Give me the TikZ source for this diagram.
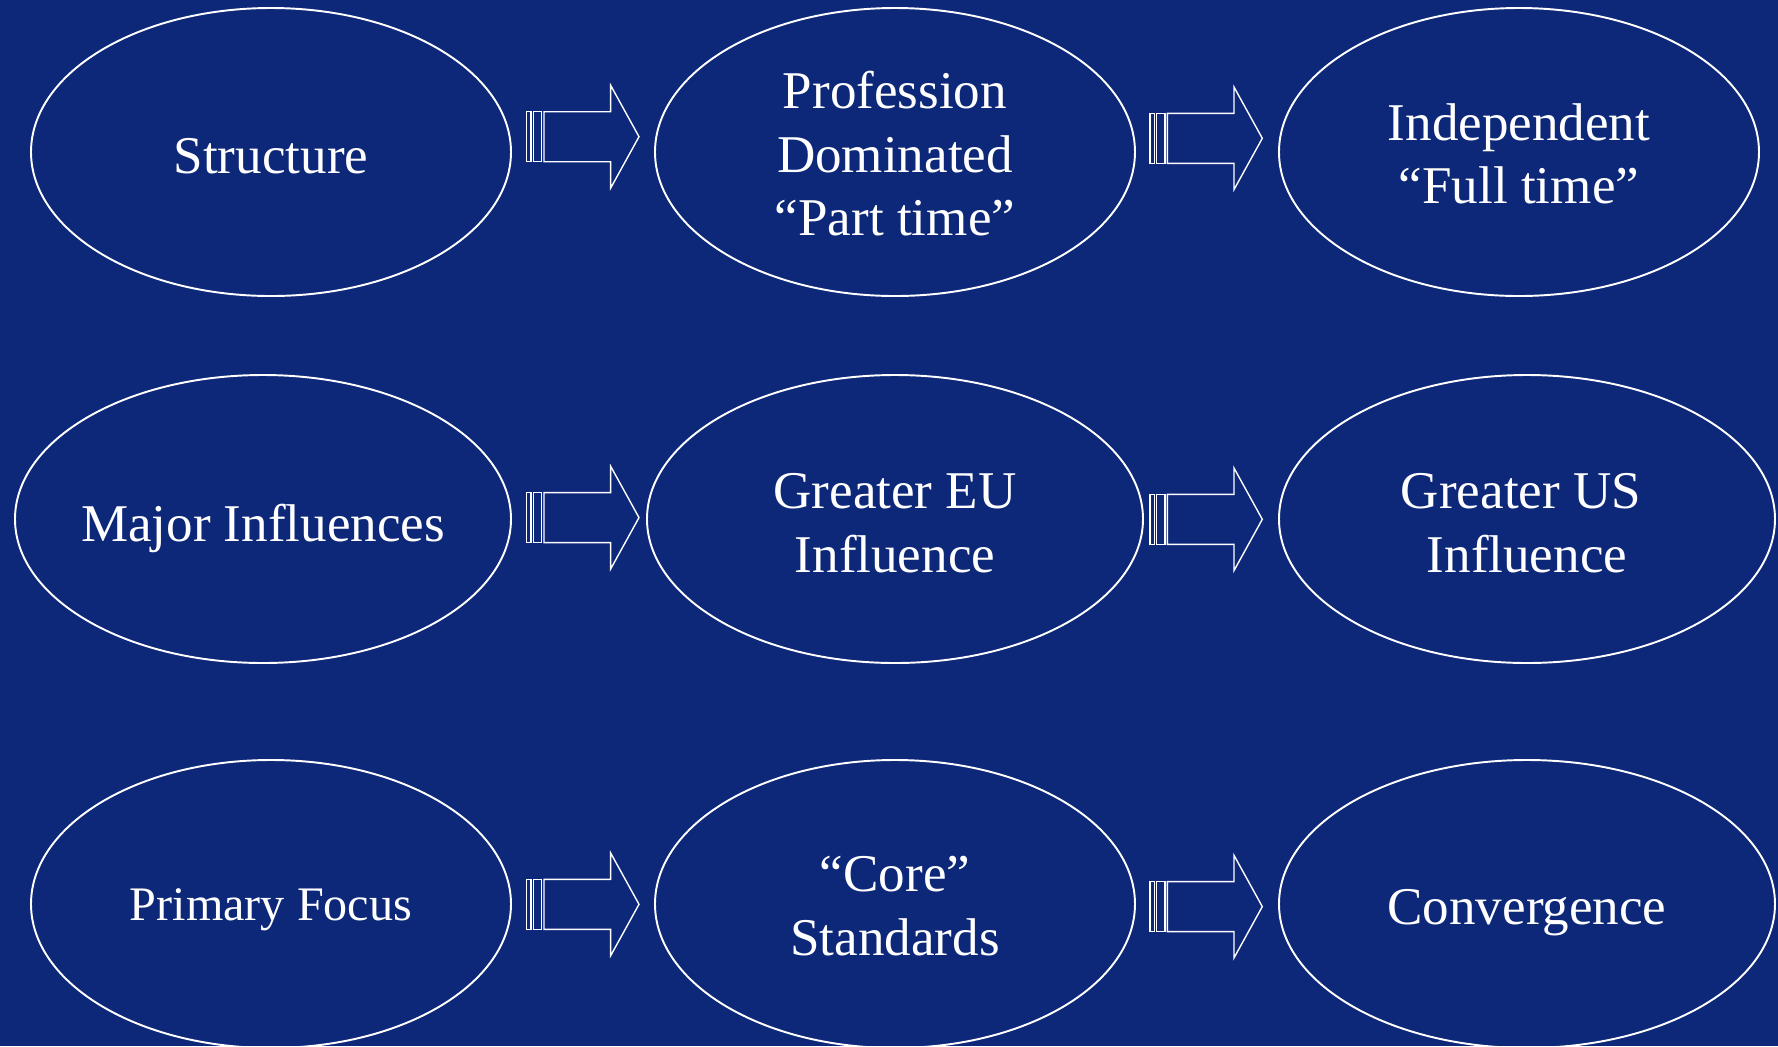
\documentclass[tikz,border=0pt]{standalone}
\usepackage{fontspec}
\setmainfont{Liberation Serif}
\usetikzlibrary{shapes.geometric}
\definecolor{navybg}{RGB}{13,39,121}
% text placed inside a fixed-size oval: zero size so the oval keeps its set size
\newcommand{\ovtxt}[3]{\makebox[0pt]{\smash{\raisebox{-#2}{\kern#1\begin{tabular}{@{}c@{}}#3\end{tabular}\kern-#1}}}}
\tikzset{
  oval/.style={draw=white, line width=0.55pt, ellipse, inner sep=0pt, text=white,
    font=\fontsize{15.1}{18.1}\selectfont, minimum height=28.8mm},
  narrow/.style={oval, minimum width=48mm},
  wide/.style={oval, minimum width=49.6mm},
  blockarrow/.pic={
    \draw[white, line width=0.4pt] (0,-25) rectangle (4.3,25);
    \draw[white, line width=0.4pt] (6.6,-25) rectangle (15,25);
    \draw[white, line width=0.4pt] (17.3,-25) -- (84,-25) -- (84,-51.3) -- (112.3,0)
      -- (84,51.3) -- (84,25) -- (17.3,25) -- cycle;
  }
}
\begin{document}
\begin{tikzpicture}[x=0.1mm, y=-0.1mm]
\fill[navybg] (0,0) rectangle (1778,1046);
\useasboundingbox (0,0) rectangle (1778,1046);

\node[narrow] (e1) at (271,152) {\ovtxt{0mm}{2.12mm}{Structure}};
\node[narrow] (e2) at (895,152) {\ovtxt{0mm}{2.01mm}{Profession\\Dominated\\“Part time”}};
\node[narrow] (e3) at (1519,152) {\ovtxt{0mm}{2.01mm}{Independent\\“Full time”}};

\node[wide] (e4) at (263,519) {\ovtxt{0mm}{2.24mm}{Major Influences}};
\node[wide] (e5) at (895,519) {\ovtxt{0mm}{2.12mm}{Greater EU\\Influence}};
\node[wide] (e6) at (1527,519) {\ovtxt{-0.6mm}{2.12mm}{Greater US\\\hspace*{1.2mm}Influence}};

\node[narrow] (e7) at (271,904) {\ovtxt{0mm}{1.65mm}{\fontsize{13.7}{16.4}\selectfont Primary Focus}};
\node[narrow] (e8) at (895,904) {\ovtxt{0mm}{1.95mm}{“Core”\\Standards}};
\node[wide] (e9) at (1527,904) {\ovtxt{0mm}{2.01mm}{Convergence}};

\pic at (526.7,136.7) {blockarrow};
\pic at (1150,138.3) {blockarrow};
\pic at (526.7,517.6) {blockarrow};
\pic at (1150,519.3) {blockarrow};
\pic at (526.7,904.3) {blockarrow};
\pic at (1150,906.6) {blockarrow};
\end{tikzpicture}
\end{document}
